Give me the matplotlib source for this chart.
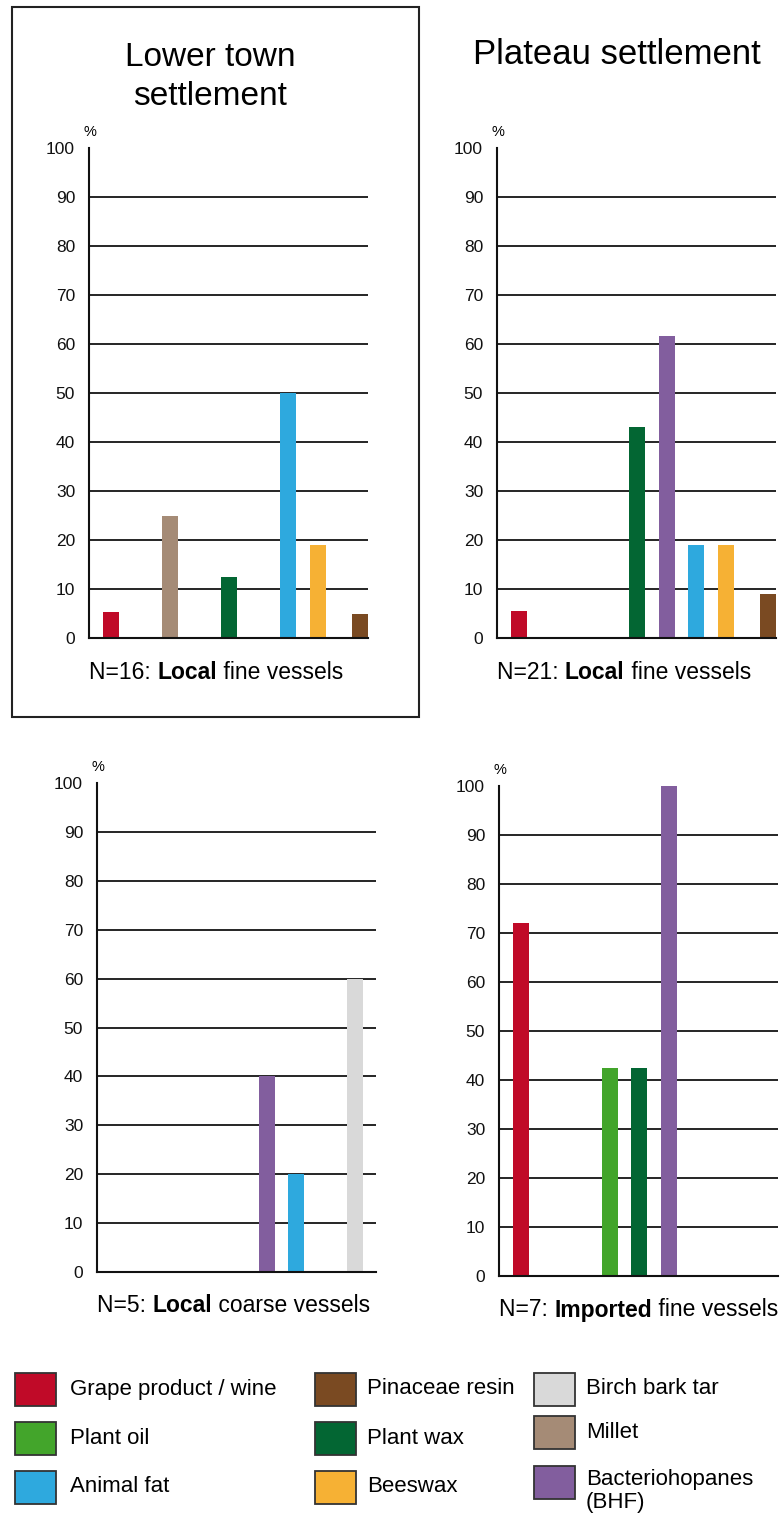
import matplotlib
matplotlib.use("Agg")
import matplotlib.pyplot as plt
from matplotlib.patches import Rectangle

plt.rcParams['font.family'] = ['Liberation Sans', 'DejaVu Sans']

# residue categories (legend order, column by column)
categories = ['Grape product / wine', 'Plant oil', 'Animal fat',
              'Pinaceae resin', 'Plant wax', 'Beeswax',
              'Birch bark tar', 'Millet', 'Bacteriohopanes\n(BHF)']
colors = ['#C00A28', '#43A52B', '#2EA9DE',
          '#7A4A22', '#036633', '#F6B134',
          '#D9D9D9', '#A58B76', '#825E9E']
# slot of each category along the x axis
slots = [0, 3, 6, 8.45, 4, 7, 8, 2, 5]

# % of vessels with each residue
lower_local_fine = [5.3, 0, 50, 5, 12.5, 19, 0, 25, 0]
plateau_local_fine = [5.5, 0, 19, 9, 43, 19, 0, 0, 61.7]
local_coarse = [0, 0, 20, 0, 0, 0, 60, 0, 40]
imported_fine = [72, 42.5, 0, 0, 42.5, 0, 0, 0, 100]

y_ticks = [0, 10, 20, 30, 40, 50, 60, 70, 80, 90, 100]
grid_levels = [10, 20, 30, 40, 50, 60, 70, 80, 90]

W, H = 783, 1515
fig = plt.figure(figsize=(W / 100, H / 100), dpi=100)


def panel(left, zero_y, top_y, values, n_text, bold_text, rest_text):
    width = 279
    h = zero_y - top_y
    ax = fig.add_axes([left / W, 1 - zero_y / H, width / W, h / H])
    ax.set_xlim(-0.75, 8.71)
    ax.set_ylim(0, 100)
    ax.hlines(grid_levels, -0.75, 8.71, colors='black', linewidth=1.2, zorder=1)
    xs = [s for s, v in zip(slots, values) if v > 0]
    hs = [v for v in values if v > 0]
    cs = [c for c, v in zip(colors, values) if v > 0]
    ax.bar(xs, hs, width=0.54, color=cs, zorder=2)
    ax.set_yticks(y_ticks)
    ax.set_xticks([])
    ax.tick_params(axis='y', length=0, pad=10, labelsize=12.5, labelcolor='#111111')
    for s in ['top', 'right']:
        ax.spines[s].set_visible(False)
    for s in ['left', 'bottom']:
        ax.spines[s].set_linewidth(1.5)
        ax.spines[s].set_color('#111111')
        ax.spines[s].set_zorder(3)
    ax.text(0.005, 1 + 16 / h, '%', transform=ax.transAxes, ha='center', va='center', fontsize=10.5)
    # caption with a bold word
    y_cap = -34 / h
    t1 = ax.text(0, y_cap, n_text, transform=ax.transAxes, ha='left', va='center', fontsize=16.5)
    t2 = ax.annotate(bold_text, xy=(1, 0), xycoords=t1, va='bottom', ha='left',
                     fontsize=16.5, fontweight='bold')
    ax.annotate(rest_text, xy=(1, 0), xycoords=t2, va='bottom', ha='left', fontsize=16.5)
    return ax


panel(89, 638, 148, lower_local_fine, 'N=16: ', 'Local', ' fine vessels')
panel(497, 638, 148, plateau_local_fine, 'N=21: ', 'Local', ' fine vessels')
panel(97, 1272, 783, local_coarse, 'N=5: ', 'Local', ' coarse vessels')
panel(499, 1276, 786, imported_fine, 'N=7: ', 'Imported', ' fine vessels')

# titles
fig.text(210 / W, 1 - 77 / H, 'Lower town\nsettlement', ha='center', va='center',
         fontsize=24, linespacing=1.36)
fig.text(617 / W, 1 - 55 / H, 'Plateau settlement', ha='center', va='center', fontsize=25)

# frame round the lower town panel
fig.patches.append(Rectangle((12 / W, 1 - 717 / H), 407 / W, 710 / H,
                             transform=fig.transFigure, fill=False,
                             linewidth=1.5, edgecolor='#222222'))

# legend
col_x = [15, 315, 534]
text_x = [70, 367, 586]
row_y = [[1389, 1438, 1487], [1389, 1438, 1487], [1389, 1432, 1482]]
sw_w, sw_h = 41, 33
for i, (name, col) in enumerate(zip(categories, colors)):
    c, r = i // 3, i % 3
    x0, yc = col_x[c], row_y[c][r]
    fig.patches.append(Rectangle((x0 / W, 1 - (yc + sw_h / 2) / H), sw_w / W, sw_h / H,
                                 transform=fig.transFigure, facecolor=col,
                                 edgecolor='#333333', linewidth=1.3))
    if '\n' in name:
        fig.text(text_x[c] / W, 1 - (yc + 9) / H, name, ha='left', va='center',
                 fontsize=16, linespacing=1.15)
    else:
        fig.text(text_x[c] / W, 1 - yc / H, name, ha='left', va='center', fontsize=16)

fig.savefig('out.png', dpi=100, facecolor='white')
